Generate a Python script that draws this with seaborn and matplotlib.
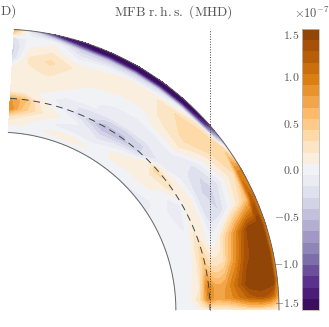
import numpy as np
import matplotlib
matplotlib.use("Agg")
import matplotlib.pyplot as plt
from matplotlib.colors import ListedColormap, BoundaryNorm
import seaborn as sns

title = r"$\mathrm{MFB\ r.h.s.\ (MHD)}$"
clipped = r"$\mathrm{D)}$"
scale_label = r"$\times 10^{-7}$"
tick_values = [-1.5, -1.0, -0.5, 0.0, 0.5, 1.0, 1.5]
tick_labels = [r"$-1.5$", r"$-1.0$", r"$-0.5$", r"$0.0$", r"$0.5$", r"$1.0$", r"$1.5$"]

# colatitude (deg) and fractional radius of the read-off grid
colat = [3.3, 7, 12, 18, 24, 30, 36, 42, 48, 54, 60, 66, 72, 78, 84, 87, 89, 90]
radius = [.633, .66, .69, .72, .75, .78, .80, .82, .86, .90, .94, .97, .985, 1.0]
# MFB r.h.s. in units of 1e-7, rows = colatitude, columns = radius
mfb = [
    [0, .05, .25, .90, .80, .12, .10, .10, .12, -.30, -.35, -.25, .30, .70],
    [0, .05, .15, .50, .60, .12, .10, .08, .15, .20, .05, .00, -.10, -.30],
    [-.02, .02, .05, .20, .12, .02, .08, .10, .20, .33, .15, .03, -.40, -1.45],
    [-.08, .12, -.10, .06, -.08, -.15, -.02, .05, .10, .15, -.10, -.40, -1.30, -1.49],
    [-.08, .14, -.12, -.08, -.30, -.20, -.05, -.02, .05, .12, .02, -.45, -1.49, -1.49],
    [-.08, .03, -.10, -.30, -.55, -.30, -.08, -.12, .02, .10, .08, -.40, -1.49, -1.49],
    [-.08, .05, .08, -.15, -.50, -.35, -.10, -.15, .00, .10, .15, -.30, -1.49, -1.49],
    [-.08, .00, .10, .10, -.30, -.30, -.15, -.15, .10, .25, .30, -.10, -1.40, -1.49],
    [-.10, .00, .10, .15, .35, -.15, -.18, -.15, .15, .33, .40, .25, -1.10, -1.49],
    [-.12, -.08, .03, .05, .25, .05, -.08, -.15, -.25, .05, .30, .35, .30, -.40],
    [0, -.02, -.05, -.20, -.05, .15, -.05, -.25, -.38, -.20, .12, .30, .90, .90],
    [0, -.02, 0, -.10, .10, .12, -.10, -.30, -.30, -.02, .25, .60, 1.20, 1.00],
    [0, 0, 0, .05, .30, .05, -.05, .05, .50, 1.00, 1.49, 1.49, 1.49, .90],
    [0, 0, 0, .10, .50, .25, .25, .30, .80, 1.30, 1.49, 1.49, 1.49, .80],
    [0, 0, .05, .15, .95, .70, .70, .80, 1.15, 1.49, 1.49, 1.49, 1.49, .80],
    [0, 0, .05, .30, .90, .70, .75, .80, 1.00, 1.20, 1.30, 1.20, 1.00, .70],
    [0, 0, 0, .12, .40, .30, .32, .35, .45, .60, .60, .50, .40, .30],
    [0, 0, 0, .05, .10, .10, .10, .10, .15, .15, .15, .10, .10, .05],
]
tachocline = 0.7544

sns.set_theme(style="white")
plt.rcParams["mathtext.fontset"] = "cm"
text_color = "#555555"

W, H = 329, 327
cx, cy, R = -2.0, 310.0, 281.0

fig = plt.figure(figsize=(W / 100, H / 100), dpi=100, facecolor="white")
ax = fig.add_axes([0, 0, 1, 1])
ax.set_xlim(-cx / R, (W - cx) / R)
ax.set_ylim((cy - H) / R, cy / R)
ax.axis("off")

th = np.radians(colat)
rr, tt = np.meshgrid(radius, th)
X, Y = rr * np.sin(tt), rr * np.cos(tt)
Z = np.array(mfb)

levels = np.linspace(-1.5, 1.5, 26)
band_colors = sns.color_palette("PuOr_r", 25).as_hex()
band_colors[12] = "#f1f2f5"
cmap = ListedColormap(band_colors)
norm = BoundaryNorm(levels, 25)
cf = ax.contourf(X, Y, Z, levels=levels, cmap=cmap, norm=norm)
ax.contour(X, Y, Z, levels=levels, cmap=cmap, norm=norm, linewidths=0.5, alpha=0.9)

arc = np.radians(np.linspace(colat[0], 90, 200))
for r0, ls, lw, col in [(radius[0], "-", 0.7, "#666666"), (1.0, "-", 0.7, "#666666"),
                        (tachocline, (0, (7, 5)), 0.7, "#444444")]:
    ax.plot(r0 * np.sin(arc), r0 * np.cos(arc), color=col, ls=ls, lw=lw)
ax.plot([tachocline, tachocline], [0, 1.0], color="#444444", ls=":", lw=0.7)

ax.text((173 - cx) / R, (cy - 12) / R, title, ha="center", va="center", fontsize=9.7, color=text_color)
ax.text((0 - cx) / R, (cy - 12) / R, clipped, ha="left", va="center", fontsize=9.7, color=text_color)
ax.text((294 - cx) / R, (cy - 13) / R, scale_label, ha="left", va="center", fontsize=9, color=text_color)

cax = fig.add_axes([302 / W, 1 - 310 / H, 17 / W, 281 / H])
cb = fig.colorbar(cf, cax=cax, ticks=tick_values, drawedges=False)
cb.minorticks_off()
cb.outline.set_edgecolor("#bbbbbb")
cb.outline.set_linewidth(0.6)
cax.yaxis.set_ticks_position("left")
cax.set_yticks(tick_values)
cax.set_yticklabels(tick_labels, fontsize=8.5, color=text_color)
cax.tick_params(axis="y", which="both", length=0, pad=2)
labels = cax.get_yticklabels()
labels[0].set_va("bottom")
labels[-1].set_va("top")

fig.savefig("out.png", dpi=100)
